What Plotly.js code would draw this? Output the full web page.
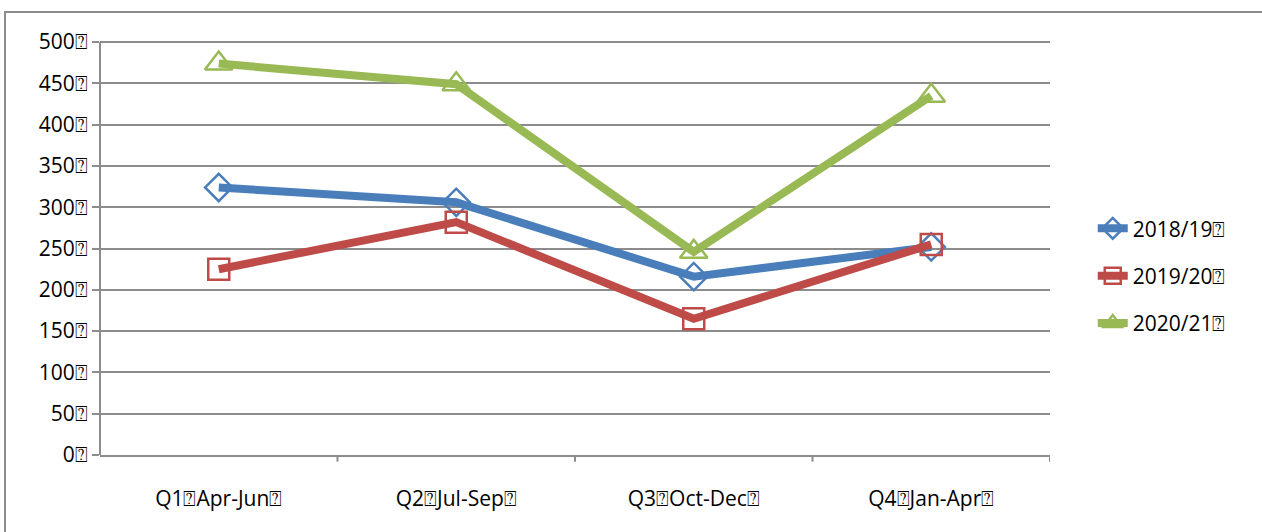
<!DOCTYPE html>
<html>
<head>
<meta charset="utf-8">
<script src="https://cdn.plot.ly/plotly-3.0.1.min.js"></script>
<style>
  html, body { margin: 0; padding: 0; background: #fff; }
  #chart { width: 1262px; height: 532px; }
</style>
</head>
<body>
<div id="chart"></div>
<script>
// values
const quarters = ['Q1\u2370Apr-Jun\u2370', 'Q2\u2370Jul-Sep\u2370', 'Q3\u2370Oct-Dec\u2370', 'Q4\u2370Jan-Apr\u2370'];
const series_names = ['2018/19\u2370', '2019/20\u2370', '2020/21\u2370'];
const values_1819 = [324, 306, 216, 252];
const values_1920 = [225, 282, 165, 255];
const values_2021 = [474, 449, 246, 435];
const y_ticks = [0, 50, 100, 150, 200, 250, 300, 350, 400, 450, 500];

const colors = ['#4a7ebb', '#be4b48', '#98b954'];
const symbols = ['diamond-open', 'square-open', 'triangle-up-open'];
const sizes = [21, 21, 24];
const all_values = [values_1819, values_1920, values_2021];

let data = [];
for (let i = 0; i < series_names.length; i++) {
  data.push({
    x: [0, 1, 2, 3],
    y: all_values[i],
    mode: 'lines+markers',
    name: series_names[i],
    legendgroup: 'g' + i,
    line: { color: colors[i], width: 8 },
    marker: {
      symbol: symbols[i],
      size: sizes[i],
      color: colors[i],
      line: { color: colors[i], width: 2.5 }
    }
  });
}

let layout = {
  width: 1262,
  height: 532,
  margin: { l: 100, r: 212, t: 38, b: 77 },
  paper_bgcolor: '#ffffff',
  plot_bgcolor: '#ffffff',
  font: { family: 'Open Sans, sans-serif', size: 21, color: '#000' },
  showlegend: true,
  legend: {
    x: 1.045, y: 0.43, xanchor: 'left', yanchor: 'middle',
    tracegroupgap: 17,
    font: { size: 21 }
  },
  xaxis: {
    range: [-0.5, 3.5],
    tickvals: [0, 1, 2, 3],
    ticktext: quarters,
    showgrid: false,
    zeroline: false,
    showline: true,
    linecolor: '#8c8c8c',
    linewidth: 2,
    ticks: '',
    ticklabelstandoff: 24
  },
  yaxis: {
    range: [0, 505],
    tickvals: y_ticks,
    ticktext: y_ticks.map(v => v + '\u2370'),
    showgrid: true,
    gridcolor: '#8c8c8c',
    gridwidth: 2,
    zeroline: false,
    showline: false,
    ticks: 'outside',
    ticklen: 7,
    tickwidth: 2,
    tickcolor: '#8c8c8c'
  },
  shapes: [
    // outer chart frame
    { type: 'rect', xref: 'paper', yref: 'paper', x0: -0.1, x1: 1.4, y0: -0.4, y1: 1.0623,
      line: { color: '#8c8c8c', width: 2 }, fillcolor: 'rgba(0,0,0,0)', layer: 'below' },
    // value axis line, from 0 to 500
    { type: 'line', xref: 'paper', yref: 'y', x0: 0, x1: 0, y0: 0, y1: 500,
      line: { color: '#8c8c8c', width: 2 }, layer: 'below' }
  ]
};

// tick marks between categories on the x axis
for (let k = 0; k < 4; k++) {
  layout.shapes.push({
    type: 'line', xref: 'x', yref: 'paper', x0: k + 0.5, x1: k + 0.5, y0: 0, y1: -0.016,
    line: { color: '#8c8c8c', width: 2 }
  });
}

Plotly.newPlot('chart', data, layout, { displayModeBar: false });
</script>
</body>
</html>
